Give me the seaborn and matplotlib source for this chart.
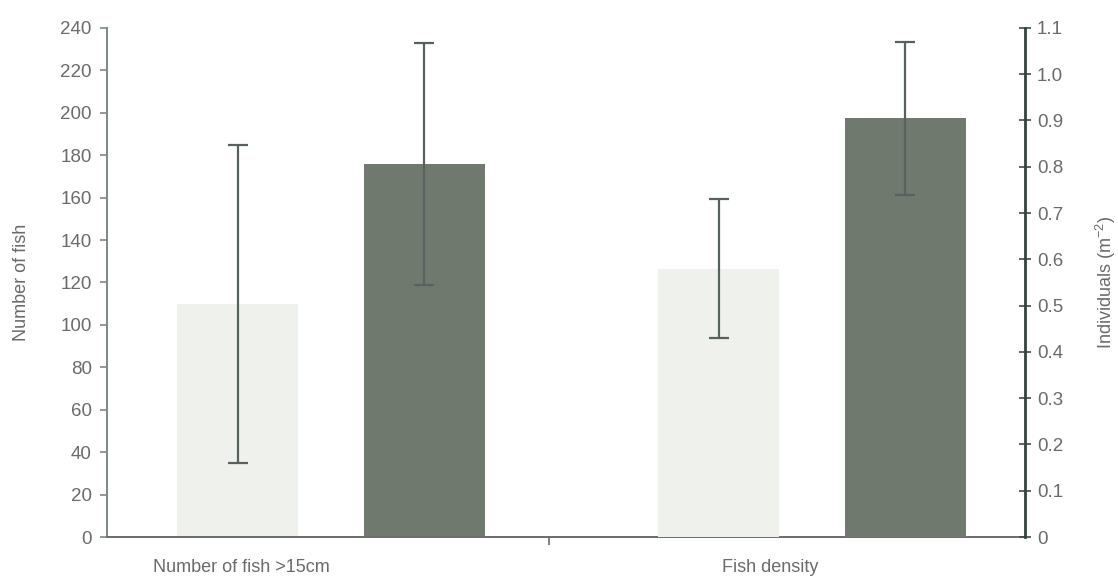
import matplotlib
matplotlib.use("Agg")
import matplotlib.pyplot as plt
import seaborn as sns
import pandas as pd
import numpy as np

# --- data -------------------------------------------------------------
categories = ["Number of fish >15cm", "Fish density"]
groups = ["Group 1", "Group 2"]
count_means = [110, 176]          # left axis (number of fish)
count_err = [75, 57]
density_means = [0.58, 0.905]     # right axis (individuals per m2)
density_err = [0.15, 0.165]
left_ticks = list(range(0, 241, 20))
right_ticks = [0, 0.1, 0.2, 0.3, 0.4, 0.5, 0.6, 0.7, 0.8, 0.9, 1.0, 1.1]
right_tick_labels = ["0", "0.1", "0.2", "0.3", "0.4", "0.5", "0.6", "0.7",
                     "0.8", "0.9", "1.0", "1.1"]

df_count = pd.DataFrame({"measure": categories[0], "group": groups,
                         "value": count_means, "err": count_err})
df_density = pd.DataFrame({"measure": categories[1], "group": groups,
                           "value": density_means, "err": density_err})

# --- style ------------------------------------------------------------
sns.set_style("white")
plt.rcParams["font.family"] = ["Liberation Sans", "DejaVu Sans"]
text_col = "#6a6a6a"
palette = {"Group 1": "#eff1ed", "Group 2": "#6d7b6c"}

fig = plt.figure(figsize=(11.18, 5.81), dpi=100)
ax = fig.add_axes([0.0957, 0.0757, 0.8213, 0.8763])
ax2 = ax.twinx()

sns.barplot(data=df_count, x="measure", y="value", hue="group",
            order=categories, hue_order=groups, palette=palette,
            width=0.776, gap=0.35, errorbar=None, legend=False,
            linewidth=0, ax=ax)
sns.barplot(data=df_density, x="measure", y="value", hue="group",
            order=categories, hue_order=groups, palette=palette,
            width=0.776, gap=0.35, errorbar=None, legend=False,
            linewidth=0, ax=ax2)

# error bars centred on the drawn bars
err_kw = dict(fmt="none", ecolor="#55625d", elinewidth=1.6, capsize=7,
              capthick=1.6, zorder=5)
for axis, frame in ((ax, df_count), (ax2, df_density)):
    patches = [p for p in axis.patches if p.get_height() > 0]
    patches.sort(key=lambda p: p.get_x())
    xs = [p.get_x() + p.get_width() / 2 for p in patches]
    axis.errorbar(xs, frame["value"], yerr=frame["err"], **err_kw)

ax.set_xlim(-0.466, 1.443)
ax.set_ylim(0, 240)
ax2.set_ylim(0, 1.1)

# left axis
ax.set_yticks(left_ticks)
ax.set_yticklabels([str(t) for t in left_ticks])
ax.tick_params(axis="y", direction="out", length=5, width=1.2,
               color="#7b8a80", labelsize=13.5, labelcolor=text_col, pad=6,
               left=True)
ax.set_ylabel("Number of fish", fontsize=13, color=text_col, labelpad=22)

# right axis
ax2.set_yticks(right_ticks)
ax2.set_yticklabels(right_tick_labels)
ax2.tick_params(axis="y", direction="inout", length=9, width=1.2,
                color="#3b4a45", labelsize=13.5, labelcolor=text_col, pad=4,
                right=True)
ax2.set_ylabel("Individuals (m$^{\\mathregular{-2}}$)", fontsize=13,
               color=text_col, labelpad=22)

# category labels with a single separating tick
ax.set_xticks([-0.187, 0.913])
ax.set_xticklabels(categories)
ax.tick_params(axis="x", length=0, labelsize=13, labelcolor=text_col,
               pad=16)
ax.set_xticks([0.452], minor=True)
ax.tick_params(axis="x", which="minor", direction="out", length=6,
               width=1.2, color="#6b6b6b", bottom=True)
ax.set_xlabel("")

for a in (ax, ax2):
    a.spines["top"].set_visible(False)
    a.grid(False)
ax.spines["left"].set_color("#7b8a80")
ax.spines["left"].set_linewidth(1.4)
ax.spines["bottom"].set_color("#6b6b6b")
ax.spines["bottom"].set_linewidth(1.4)
ax.spines["right"].set_visible(False)
ax2.spines["left"].set_visible(False)
ax2.spines["bottom"].set_visible(False)
ax2.spines["right"].set_color("#33433e")
ax2.spines["right"].set_linewidth(2.0)

fig.savefig("out.png", dpi=100, facecolor="white")
